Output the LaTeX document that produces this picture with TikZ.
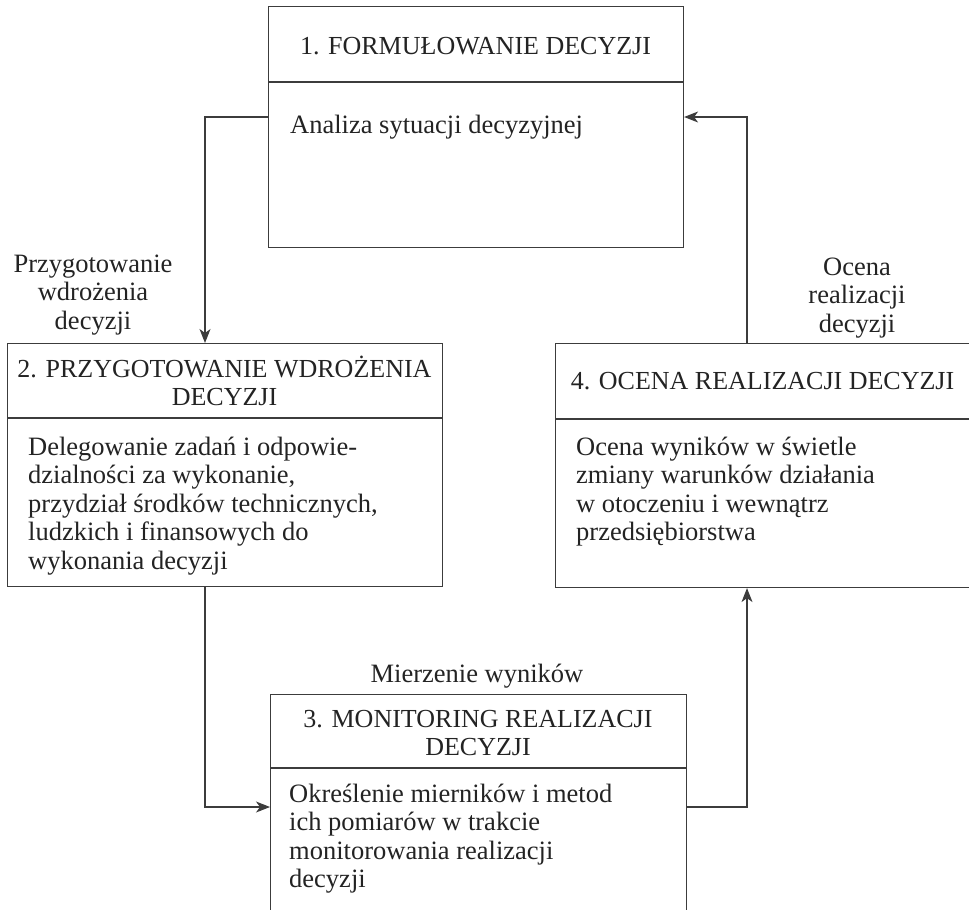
\documentclass[tikz,border=0pt]{standalone}
\usepackage{fontspec}
\setmainfont{Liberation Serif}
\usetikzlibrary{arrows.meta}
\definecolor{ink}{RGB}{35,35,35}
\definecolor{linec}{RGB}{60,60,60}
\begin{document}
\begin{tikzpicture}[x=1pt,y=-1pt,
  every node/.style={inner sep=0pt, text=ink, font=\fontsize{26.5}{28.5}\selectfont},
  box/.style={draw=linec, line width=1.1pt, anchor=north west, rectangle},
  divider/.style={draw=linec, line width=1.1pt},
  conn/.style={draw=linec, line width=1.1pt, -{Stealth[length=14pt,width=11pt,inset=4pt]}},
  body/.style={anchor=base west},
  ttl/.style={anchor=base, font=\fontsize{26}{28.5}\selectfont},
  lbl/.style={anchor=base}]
\useasboundingbox (0,0) rectangle (969,910);
\clip (0,0) rectangle (969,910);
% boxes
\node[box, minimum width=415pt, minimum height=241pt] (b1) at (268,6) {};
\node[box, minimum width=435pt, minimum height=243pt] (b2) at (7,343) {};
\node[box, minimum width=416pt, minimum height=260pt] (b3) at (270,694) {};
\node[box, minimum width=420pt, minimum height=244pt] (b4) at (555,343) {};
% dividers
\draw[divider] (b1.west |- 0,82) -- (b1.east |- 0,82);
\draw[divider] (b2.west |- 0,418) -- (b2.east |- 0,418);
\draw[divider] (b3.west |- 0,768) -- (b3.east |- 0,768);
\draw[divider] (b4.west |- 0,419) -- (b4.east |- 0,419);
% titles
\node[ttl] (t1) at (475.5,54) {1. FORMUŁOWANIE DECYZJI};
\node[ttl] (t2) at (224.5,377) {\begin{tabular}[t]{@{}c@{}}2. PRZYGOTOWANIE WDROŻENIA\\DECYZJI\end{tabular}};
\node[ttl] (t3) at (478,727) {\begin{tabular}[t]{@{}c@{}}3. MONITORING REALIZACJI\\DECYZJI\end{tabular}};
\node[ttl] (t4) at (762.5,389) {4. OCENA REALIZACJI DECYZJI};
% bodies
\node[body] (d1) at (290,133) {Analiza sytuacji decyzyjnej};
\node[body] (d2) at (28,455) {\begin{tabular}[t]{@{}l@{}}Delegowanie zadań i odpowie-\\dzialności za wykonanie,\\przydział środków technicznych,\\ludzkich i finansowych do\\wykonania decyzji\end{tabular}};
\node[body] (d3) at (289,802) {\begin{tabular}[t]{@{}l@{}}Określenie mierników i metod\\ich pomiarów w trakcie\\monitorowania realizacji\\decyzji\end{tabular}};
\node[body] (d4) at (576,455) {\begin{tabular}[t]{@{}l@{}}Ocena wyników w świetle\\zmiany warunków działania\\w otoczeniu i wewnątrz\\przedsiębiorstwa\end{tabular}};
% connector labels
\node[lbl] (l1) at (93,272) {\begin{tabular}[t]{@{}c@{}}Przygotowanie\\wdrożenia\\decyzji\end{tabular}};
\node[lbl] (l4) at (857,275) {\begin{tabular}[t]{@{}c@{}}Ocena\\realizacji\\decyzji\end{tabular}};
\node[lbl] (l3) at (477,682) {Mierzenie wyników};
% connectors
\coordinate (k1) at (205,117);
\coordinate (k2) at (205,807);
\coordinate (k3) at (747,807);
\coordinate (k4) at (747,117);
\draw[conn] (b1.west |- k1) -- (k1) -- (k1 |- b2.north);
\draw[conn] (k2 |- b2.south) -- (k2) -- (b3.west |- k2);
\draw[conn] (b3.east |- k3) -- (k3) -- (k3 |- b4.south);
\draw[conn] (k4 |- b4.north) -- (k4) -- (b1.east |- k4);
\end{tikzpicture}
\end{document}
